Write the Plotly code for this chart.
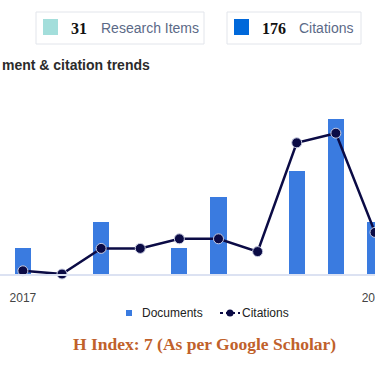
import plotly.graph_objects as go

years = [2017, 2018, 2019, 2020, 2021, 2022, 2023, 2024, 2025, 2026]
documents = [1, 0, 2, 0, 1, 3, 0, 4, 6, 2]
citations = [1, 0, 8, 8, 11, 11, 7, 41, 44, 13]
tick_years = [2017, 2026]
tick_text = ["2017", "2026"]
research_items = 31
total_citations = 176

W, H = 375, 366
T, B = 90, 274  # plot area top / bottom in px
PH = B - T


def px(x):
    return x / W


def py(y):
    return (B - y) / PH


BAR = "#3a7be0"
NAVY = "#0b0b45"

fig = go.Figure()
fig.add_trace(go.Bar(
    x=years, y=documents, name="Documents", width=0.41,
    marker=dict(color=BAR, line=dict(width=0)),
    showlegend=False,
))
fig.add_trace(go.Scatter(
    x=years, y=citations, name="Citations", yaxis="y2", mode="lines+markers",
    line=dict(color=NAVY, width=2.5),
    marker=dict(size=10, color=NAVY, line=dict(color="#c9cde3", width=1)),
    cliponaxis=False, showlegend=False,
))

shapes = []
annotations = []

# top stat boxes
shapes += [
    dict(type="rect", xref="paper", yref="paper", x0=px(36), x1=px(204), y0=py(12), y1=py(44),
         line=dict(color="#e2e5eb", width=1), fillcolor="white", layer="below"),
    dict(type="rect", xref="paper", yref="paper", x0=px(43), x1=px(58), y0=py(19), y1=py(35),
         line=dict(width=0), fillcolor="#a3dedb"),
    dict(type="rect", xref="paper", yref="paper", x0=px(227), x1=px(361), y0=py(12), y1=py(44),
         line=dict(color="#e2e5eb", width=1), fillcolor="white", layer="below"),
    dict(type="rect", xref="paper", yref="paper", x0=px(234), x1=px(249), y0=py(19), y1=py(35),
         line=dict(width=0), fillcolor="#0068da"),
]
annotations += [
    dict(text="<b>%d</b>" % research_items, x=px(69), y=py(29), xref="paper", yref="paper",
         xanchor="left", yanchor="middle", showarrow=False,
         font=dict(family="Liberation Serif", size=16, color="#111")),
    dict(text="Research Items", x=px(99), y=py(28), xref="paper", yref="paper",
         xanchor="left", yanchor="middle", showarrow=False,
         font=dict(family="Liberation Sans", size=14, color="#5b6a87")),
    dict(text="<b>%d</b>" % total_citations, x=px(260), y=py(29), xref="paper", yref="paper",
         xanchor="left", yanchor="middle", showarrow=False,
         font=dict(family="Liberation Serif", size=16, color="#111")),
    dict(text="Citations", x=px(297), y=py(28), xref="paper", yref="paper",
         xanchor="left", yanchor="middle", showarrow=False,
         font=dict(family="Liberation Sans", size=14, color="#5b6a87")),
    dict(text="<b>ment &amp; citation trends</b>", x=px(0), y=py(65), xref="paper", yref="paper",
         xanchor="left", yanchor="middle", showarrow=False,
         font=dict(family="Liberation Sans", size=14, color="#2b2b2b")),
]

# manual legend
shapes += [
    dict(type="rect", xref="paper", yref="paper", x0=px(126), x1=px(132), y0=py(310), y1=py(316),
         line=dict(width=0), fillcolor=BAR),
    dict(type="line", xref="paper", yref="paper", x0=px(220), x1=px(240), y0=py(313), y1=py(313),
         line=dict(color=NAVY, width=2, dash="dot")),
    dict(type="circle", xref="paper", yref="paper", x0=px(226.5), x1=px(233.5), y0=py(309.5), y1=py(316.5),
         line=dict(width=0), fillcolor=NAVY),
]
annotations += [
    dict(text="Documents", x=px(140), y=py(313), xref="paper", yref="paper",
         xanchor="left", yanchor="middle", showarrow=False,
         font=dict(family="Liberation Sans", size=12, color="#222")),
    dict(text="Citations", x=px(240), y=py(313), xref="paper", yref="paper",
         xanchor="left", yanchor="middle", showarrow=False,
         font=dict(family="Liberation Sans", size=12, color="#222")),
    dict(text="<b>H Index: 7 (As per Google Scholar)</b>", x=px(204), y=py(344), xref="paper", yref="paper",
         xanchor="center", yanchor="middle", showarrow=False,
         font=dict(family="Liberation Serif", size=17.5, color="#c0612b")),
]

fig.update_layout(
    width=W, height=H,
    margin=dict(l=0, r=0, t=T, b=H - B, pad=0),
    paper_bgcolor="white", plot_bgcolor="white",
    template="none",
    bargap=0,
    shapes=shapes, annotations=annotations,
    xaxis=dict(range=[2016.415, 2026.0], tickvals=tick_years, ticktext=tick_text,
               showgrid=False, zeroline=False, showline=True, linecolor="#dce2f2", linewidth=2,
               ticks="", ticklabelstandoff=12, automargin=False, ticklabeloverflow="allow",
               tickfont=dict(family="Liberation Sans", size=12, color="#444")),
    yaxis=dict(range=[0, PH / 25.8], visible=False, showgrid=False, zeroline=False, automargin=False),
    yaxis2=dict(range=[0, PH / 3.2], overlaying="y", visible=False, showgrid=False, zeroline=False,
                automargin=False),
)

fig.write_html(
    "out.html",
    config={"displayModeBar": False},
    post_script="document.body.style.margin='0';document.body.style.overflow='hidden';",
)
